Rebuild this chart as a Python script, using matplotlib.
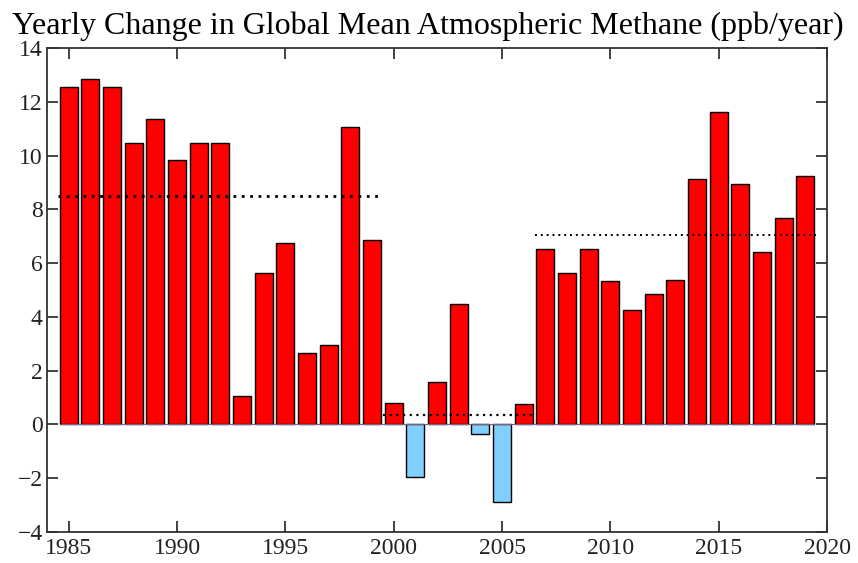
import matplotlib
matplotlib.use("Agg")
import matplotlib.pyplot as plt
import numpy as np

years = list(range(1985, 2020))
growth = [12.55, 12.84, 12.55, 10.46, 11.35, 9.83, 10.46, 10.46, 1.06, 5.63,
          6.74, 2.65, 2.95, 11.06, 6.85, 0.81, -1.97, 1.59, 4.49, -0.36,
          -2.88, 0.76, 6.52, 5.62, 6.52, 5.32, 4.25, 4.85, 5.37, 9.12,
          11.63, 8.94, 6.41, 7.69, 9.25]
# averaging periods (first year, last year)
periods = [(1985, 1999), (2000, 2006), (2007, 2019)]
period_lw = [2.0, 1.6, 1.4]

plt.rcParams['font.family'] = ['Liberation Serif', 'DejaVu Serif']

fig = plt.figure(figsize=(8.58, 5.63), dpi=100)
ax = fig.add_axes([0.0548, 0.0551, 0.9091, 0.8596])

yrs = np.array(years)
vals = np.array(growth)
colors = ['#ff0000' if v >= 0 else '#80d0ff' for v in vals]
ax.bar(yrs, vals, width=0.82, color=colors, edgecolor='black', linewidth=1.0, zorder=2)
ax.hlines(0, yrs[0] - 0.41, yrs[-1] + 0.41, color='#806080', linewidth=0.8, zorder=3)

for (a, b), lw in zip(periods, period_lw):
    m = (yrs >= a) & (yrs <= b)
    ax.hlines(vals[m].mean(), a - 0.5, b + 0.5, colors='black', linestyles=(0, (1, 2)),
              linewidth=lw, zorder=4)

ax.set_xlim(1984, 2020)
ax.set_ylim(-4, 14)
ax.set_xticks(range(1985, 2021, 5))
ax.set_yticks(range(-4, 15, 2))
ax.set_yticklabels([str(t).replace('-', '\u2212') for t in range(-4, 15, 2)])
ax.tick_params(direction='in', length=8, width=1.2, top=True, right=True,
               labelsize=17, colors='#222222', pad=3)
ax.tick_params(axis='x', pad=4)
for s in ax.spines.values():
    s.set_color('#333333')
    s.set_linewidth(1.3)

ax.set_title('Yearly Change in Global Mean Atmospheric Methane (ppb/year)',
             fontsize=23, pad=10, x=0.488)

fig.savefig('out.png', dpi=100)
